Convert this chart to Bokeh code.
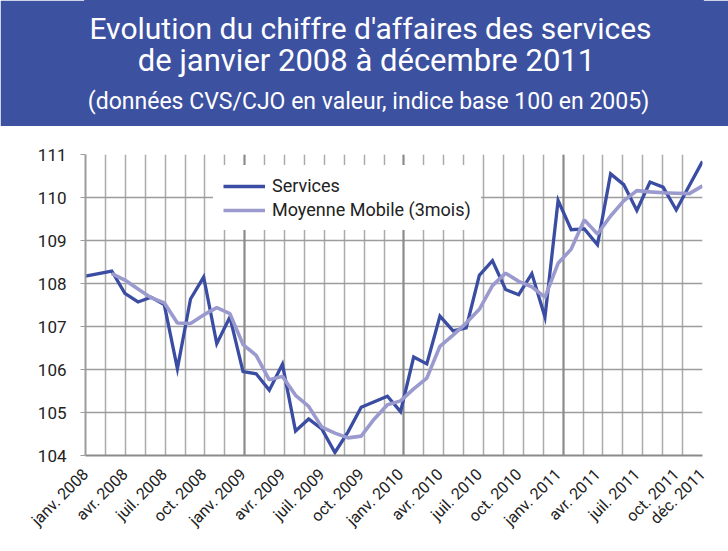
import math
import numpy as np
from bokeh.plotting import figure
from bokeh.models import (Range1d, FixedTicker, Legend, LegendItem, Grid, Label)
from bokeh.layouts import column
from bokeh.embed import file_html
from bokeh.resources import INLINE

# ---------------- data ----------------
title_lines = [
    "Evolution du chiffre d'affaires des services",
    "de janvier 2008 à décembre 2011",
    "(données CVS/CJO en valeur, indice base 100 en 2005)",
]

services = [108.17, 108.23, 108.29, 107.77, 107.57, 107.68, 107.51, 106.02,
            107.64, 108.15, 106.60, 107.22, 105.95, 105.90, 105.52, 106.12,
            104.57, 104.85, 104.62, 104.07, 104.55, 105.12, 105.25, 105.38,
            105.02, 106.29, 106.13, 107.24, 106.90, 106.97, 108.19, 108.53,
            107.86, 107.74, 108.23, 107.22, 109.93, 109.25, 109.27, 108.90,
            110.55, 110.30, 109.70, 110.36, 110.24, 109.71, 110.28, 110.84]

moyenne_mobile = [float("nan"), float("nan"), 108.23, 108.08, 107.87, 107.67,
                  107.55, 107.08, 107.07, 107.27, 107.44, 107.30, 106.58, 106.33,
                  105.76, 105.84, 105.40, 105.14, 104.66, 104.52, 104.41, 104.45,
                  104.85, 105.18, 105.27, 105.55, 105.80, 106.54, 106.80, 107.08,
                  107.40, 107.95, 108.24, 108.05, 107.92, 107.68, 108.47, 108.80,
                  109.48, 109.15, 109.57, 109.92, 110.16, 110.13, 110.11, 110.10,
                  110.09, 110.27]

month_index = list(range(48))

tick_positions = [0, 3, 6, 9, 12, 15, 18, 21, 24, 27, 30, 33, 36, 39, 42, 45, 47]
tick_labels = ["janv. 2008", "avr. 2008", "juil. 2008", "oct. 2008",
               "janv. 2009", "avr. 2009", "juil. 2009", "oct. 2009",
               "janv. 2010", "avr. 2010", "juil. 2010", "oct. 2010",
               "janv. 2011", "avr. 2011", "juil. 2011", "oct. 2011", "déc. 2011"]
y_ticks = [104, 105, 106, 107, 108, 109, 110, 111]

series_names = ["Services", "Moyenne Mobile (3mois)"]

# ---------------- style ----------------
BAND = "#3D51A1"
C_SERV = "#3A4DA2"
C_MM = "#9A9ACF"
FONT = "Roboto"
W = 728

# ---------------- title band ----------------
band = figure(width=W, height=126, x_range=Range1d(0, 1), y_range=Range1d(0, 1),
              toolbar_location=None, output_backend="svg",
              min_border_top=0, min_border_bottom=0,
              x_axis_type=None, y_axis_type=None,
              background_fill_color=BAND, border_fill_color=BAND,
              outline_line_color=BAND, outline_line_width=3)
band.grid.visible = False
for txt, xx, yy, fs in zip(title_lines, [370, 366, 368], [28, 60, 101],
                           ["30px", "31px", "23px"]):
    band.add_layout(Label(x=xx, y=yy, x_units="canvas", y_units="canvas", text=txt,
                          text_font=FONT, text_font_size=fs, text_color="white",
                          text_align="center", text_baseline="middle"))

# ---------------- chart ----------------
p = figure(width=W, height=425, x_range=Range1d(0, 47), y_range=Range1d(104, 111),
           toolbar_location=None, output_backend="svg",
           min_border_left=85, min_border_right=26, min_border_top=28,
           min_border_bottom=96, outline_line_color=None,
           background_fill_color="white", border_fill_color="white")

grid_pos = list(np.linspace(0, 47, 32))
p.xgrid.ticker = FixedTicker(ticks=grid_pos)
p.xgrid.grid_line_color = "#ABABAB"
p.xgrid.grid_line_width = 1.5
p.add_layout(Grid(dimension=0, ticker=FixedTicker(ticks=[grid_pos[8], grid_pos[16], grid_pos[24]]),
                  grid_line_color="#8A8A8A", grid_line_width=2))
p.ygrid.ticker = FixedTicker(ticks=y_ticks)
p.ygrid.grid_line_color = "#9C9C9C"
p.ygrid.grid_line_width = 1.5

p.yaxis.ticker = FixedTicker(ticks=y_ticks)
p.yaxis.axis_line_color = "#9C9C9C"
p.yaxis.axis_line_width = 2
p.yaxis.major_tick_line_color = "#9C9C9C"
p.yaxis.major_tick_out = 5
p.yaxis.major_tick_in = 0
p.yaxis.minor_tick_line_color = None
p.yaxis.major_label_text_font = FONT
p.yaxis.major_label_text_font_size = "17px"
p.yaxis.major_label_text_color = "#222222"
p.yaxis.major_label_standoff = 14

p.xaxis.ticker = FixedTicker(ticks=tick_positions)
p.xaxis.major_label_overrides = {pos: lab for pos, lab in zip(tick_positions, tick_labels)}
p.xaxis.major_label_orientation = math.pi / 4
p.xaxis.axis_line_color = "#8A8A8A"
p.xaxis.axis_line_width = 2
p.xaxis.major_tick_line_color = None
p.xaxis.minor_tick_line_color = None
p.xaxis.major_label_text_font = FONT
p.xaxis.major_label_text_font_size = "16px"
p.xaxis.major_label_text_color = "#222222"
p.xaxis.major_label_standoff = 10

r1 = p.line(month_index, services, line_color=C_SERV, line_width=3.3, line_join="miter")
r2 = p.line(month_index, moyenne_mobile, line_color=C_MM, line_width=3.6)

legend = Legend(items=[LegendItem(label=series_names[0], renderers=[r1]),
                       LegendItem(label=series_names[1], renderers=[r2])],
                location=(128, 225), padding=10, spacing=3, glyph_width=42,
                glyph_height=20, label_standoff=7, label_text_font=FONT,
                label_text_font_size="18px", label_text_color="#222222",
                border_line_alpha=0, background_fill_color="white",
                background_fill_alpha=1.0, margin=0)
p.add_layout(legend)

layout = column(band, p)
open("out.html", "w").write(file_html(layout, INLINE))
